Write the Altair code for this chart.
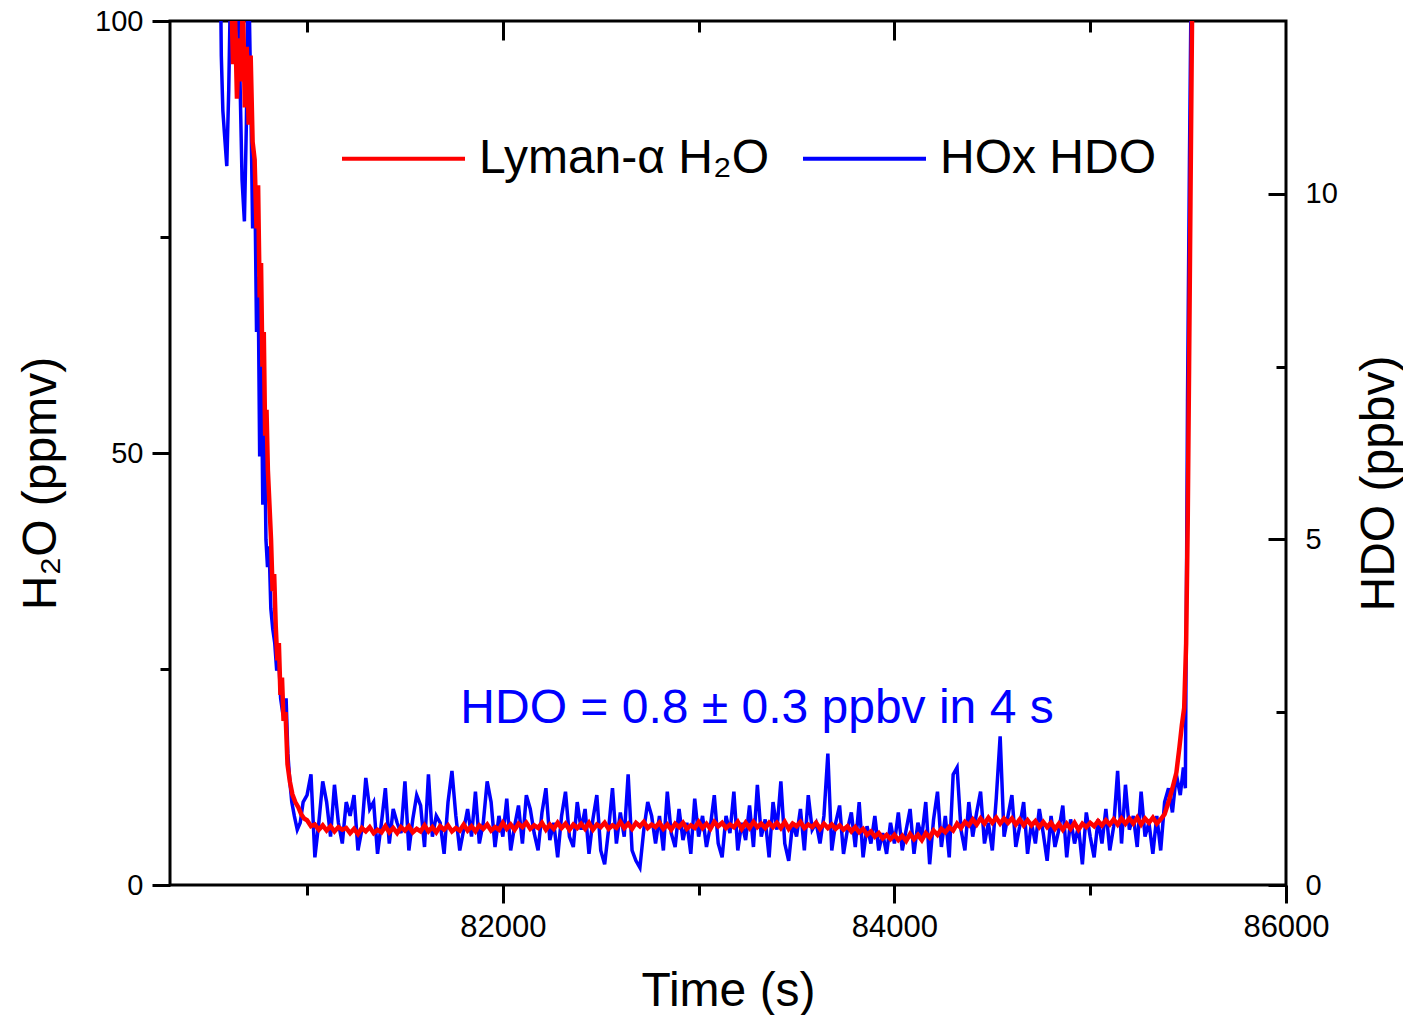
import altair as alt
import pandas as pd

FONT = "Liberation Sans"
RED = "#FF0000"
BLUE = "#0000FF"

# ---------------- data ----------------
# Lyman-alpha H2O (ppmv) – left axis
red_time_start = [80612, 80622, 80632, 80642, 80652, 80662, 80672, 80682, 80692, 80702,
                  80712, 80722, 80732, 80742, 80750, 80758, 80765, 80772, 80779, 80786,
                  80793, 80800, 80808, 80816, 80824, 80832, 80840, 80848, 80856, 80864,
                  80872, 80880, 80890, 80900, 80912, 80925, 80940, 80955, 80970, 80985]
red_val_start = [104, 95, 101, 91, 98, 93, 103, 90, 97, 88,
                 96, 86, 84, 76, 81, 68, 72, 60, 64, 52,
                 55, 48, 44, 40, 34, 36, 30, 26, 28, 22,
                 24, 19, 20, 14, 12, 10.5, 9.6, 9.0, 8.2, 7.7]
red_val_base = [
    7.5, 6.8, 7.0, 6.4, 6.9, 6.3, 6.8, 6.2, 6.7, 6.4,
    6.6, 6.0, 6.5, 5.9, 6.6, 6.2, 6.7, 6.0, 6.4, 6.1,
    6.8, 6.1, 6.6, 6.0, 6.7, 6.3, 6.8, 6.1, 6.5, 6.2,
    6.9, 6.2, 6.7, 6.1, 6.8, 6.4, 6.9, 6.2, 6.6, 6.3,
    7.0, 6.3, 6.8, 6.2, 6.9, 6.5, 7.0, 6.3, 6.7, 6.4,
    7.2, 6.5, 7.0, 6.4, 7.1, 6.7, 7.2, 6.5, 6.9, 6.6,
    7.2, 6.4, 7.0, 6.5, 7.2, 6.6, 7.1, 6.4, 7.0, 6.6,
    7.1, 6.5, 7.2, 6.4, 7.0, 6.7, 7.2, 6.5, 6.9, 6.6,
    7.3, 6.6, 7.1, 6.5, 7.2, 6.8, 7.3, 6.6, 7.0, 6.7,
    7.2, 6.5, 7.0, 6.4, 7.1, 6.7, 7.2, 6.5, 6.9, 6.6,
    7.3, 6.6, 7.1, 6.5, 7.3, 6.8, 7.2, 6.6, 7.0, 6.7,
    7.3, 6.5, 7.2, 6.6, 7.3, 6.7, 7.1, 6.6, 7.2, 6.7,
    7.2, 6.6, 7.3, 6.5, 7.1, 6.8, 7.3, 6.6, 7.0, 6.7,
    7.2, 6.5, 7.1, 6.6, 7.0, 6.5, 6.9, 6.4, 6.8, 6.2,
    6.7, 6.1, 6.5, 5.8, 6.2, 5.6, 6.0, 5.4, 5.8, 5.3,
    5.8, 5.2, 5.7, 5.1, 5.9, 5.3, 5.8, 5.2, 6.0, 5.5,
    6.3, 5.8, 6.5, 6.1, 6.7, 6.3, 7.1, 6.6, 7.3, 6.9,
    7.6, 7.0, 7.7, 7.1, 7.8, 7.2, 7.8, 7.1, 7.7, 7.2,
    7.7, 7.0, 7.6, 6.9, 7.5, 6.9, 7.4, 6.7, 7.3, 6.7,
    7.2, 6.5, 7.1, 6.4, 7.1, 6.5, 7.2, 6.4, 7.1, 6.7,
    7.2, 6.8, 7.4, 6.9, 7.5, 7.0, 7.6, 7.0, 7.7, 7.1,
    7.7, 7.1, 7.8, 7.0, 7.7, 7.2, 7.8, 7.1, 7.6,
]
red_time_end = [85380, 85400, 85420, 85440, 85455, 85468, 85480, 85490, 85498, 85505, 85512, 85518, 85524]
red_val_end = [8.2, 9.6, 11.2, 13.0, 15.8, 18.5, 20.5, 28, 42, 60, 79, 95, 110]

# HOx HDO (ppbv) – right axis
blue_time_start = [80555, 80562, 80570, 80580, 80590, 80600, 80612, 80625, 80640, 80655,
                   80668, 80680, 80690, 80700, 80712, 80722, 80732, 80742, 80750, 80758,
                   80766, 80774, 80782, 80790, 80798, 80806, 80815, 80825, 80835, 80845,
                   80855, 80865, 80875, 80885, 80893, 80902, 80912, 80922, 80935, 80950,
                   80965, 80980]
blue_val_start = [14.0, 12.0, 11.2, 10.8, 10.4, 11.5, 13.5, 12.9, 13.5, 12.0,
                  10.2, 9.6, 11.0, 13.5, 11.5, 9.5, 10.5, 8.0, 8.8, 6.2,
                  7.6, 5.5, 6.9, 5.0, 4.6, 4.9, 4.0, 3.7, 3.5, 3.1,
                  3.3, 2.7, 2.5, 2.4, 2.7, 1.9, 1.5, 1.2, 1.0, 0.8,
                  0.9, 1.2]
blue_val_base = [
    1.3, 1.6, 0.4, 0.9, 1.5, 1.2, 0.7, 1.45, 0.9, 0.6,
    1.2, 1.0, 1.3, 0.5, 0.8, 1.55, 1.1, 1.2, 0.45, 0.9,
    1.4, 0.6, 1.1, 0.9, 0.75, 1.5, 0.5, 0.95, 1.3, 1.15,
    0.55, 1.6, 0.7, 1.0, 0.9, 0.45, 1.2, 1.65, 1.0, 0.5,
    0.8, 1.1, 0.7, 1.35, 0.6, 0.9, 1.5, 1.2, 0.55, 1.0,
    0.7, 1.25, 0.5, 0.85, 1.15, 0.6, 1.3, 1.1, 0.75, 0.5,
    1.05, 1.4, 0.65, 0.9, 0.4, 1.0, 1.35, 0.7, 0.55, 1.2,
    0.8, 1.1, 0.45, 0.95, 1.3, 0.5, 0.3, 0.8, 1.4, 0.6,
    1.05, 0.7, 1.6, 0.5, 0.35, 0.25, 0.8, 1.2, 1.0, 0.6,
    1.0, 0.5, 1.35, 0.75, 0.55, 1.1, 0.65, 0.9, 0.45, 1.25,
    0.7, 1.0, 0.55, 0.85, 1.3, 0.6, 0.4, 1.0, 0.75, 1.35,
    0.5, 0.9, 0.65, 1.15, 0.55, 1.45, 0.7, 0.95, 0.4, 1.2,
    0.8, 1.5, 0.6, 0.35, 0.9, 0.7, 1.1, 0.5, 1.3, 0.8,
    0.9, 0.6, 1.0, 1.9, 0.5, 0.9, 1.15, 0.45, 0.8, 1.05,
    0.55, 1.2, 0.4, 0.85, 0.6, 1.0, 0.5, 0.75, 0.45, 0.9,
    0.6, 1.05, 0.5, 0.8, 1.1, 0.45, 0.9, 0.7, 1.2, 0.3,
    0.95, 1.35, 0.55, 1.0, 0.4, 1.6, 1.7, 0.8, 0.5, 1.2,
    0.7, 1.05, 1.35, 0.6, 0.9, 0.5, 1.25, 2.15, 0.7, 1.0,
    1.3, 0.55, 0.85, 1.2, 0.45, 0.9, 0.6, 1.1, 0.75, 0.35,
    1.0, 0.55, 0.8, 1.15, 0.4, 0.95, 0.6, 0.85, 0.3, 1.05,
    0.7, 0.4, 0.95, 0.6, 1.1, 0.5, 0.85, 1.65, 0.6, 1.45,
    0.8, 1.0, 0.55, 1.35, 0.7, 0.9, 0.45, 1.0, 0.5, 1.2,
]
blue_time_end = [85400, 85420, 85440, 85460, 85476, 85486, 85497, 85507, 85517]
blue_val_end = [1.4, 1.05, 1.6, 1.3, 1.7, 1.4, 7.0, 10.5, 13.5]

series_names = ["Lyman-\u03b1 H\u2082O", "HOx HDO"]
series_colors = [RED, BLUE]

annotation_text = ["HDO = 0.8 \u00b1 0.3 ppbv in 4 s"]
annotation_t = [81783]
annotation_v = [18.75]

x_domain = [80300, 86000]
left_domain = [0, 100]
right_domain = [0, 12.5]

# ---------------- tables ----------------
red_time = red_time_start + list(range(81000, 81000 + 20 * len(red_val_base), 20)) + red_time_end
red_vals = red_val_start + red_val_base + red_val_end
blue_time = blue_time_start + list(range(81000, 81000 + 20 * len(blue_val_base), 20)) + blue_time_end
blue_vals = blue_val_start + blue_val_base + blue_val_end

red_df = pd.DataFrame({"t": red_time, "v": red_vals, "series": series_names[0]})
blue_df = pd.DataFrame({"t": blue_time, "v": blue_vals, "series": series_names[1]})
ann_df = pd.DataFrame({"t": annotation_t, "v": annotation_v, "label": annotation_text})

# ---------------- axes ----------------
common = dict(domain=False, grid=False, tickColor="black", tickWidth=3,
              labelFlush=False, labelOverlap=False, labelBound=False)

ax_bottom_major = alt.Axis(orient="bottom", values=[82000, 84000, 86000], tickSize=18,
                           labelFont=FONT, labelFontSize=31, labelColor="black", labelPadding=9,
                           format="d", title="Time (s)", titleFont=FONT, titleFontSize=48,
                           titleFontWeight="normal", titleColor="black", titleY=120,
                           titleBaseline="alphabetic", **common)
ax_bottom_minor = alt.Axis(orient="bottom", values=[81000, 83000, 85000], tickSize=10,
                           labels=False, title=None, **common)
ax_top_major = alt.Axis(orient="top", values=[82000, 84000], tickSize=19, offset=-19,
                        labels=False, title=None, **common)
ax_top_minor = alt.Axis(orient="top", values=[81000, 83000, 85000], tickSize=11, offset=-11,
                        labels=False, title=None, **common)

ax_left_major = alt.Axis(orient="left", values=[0, 50, 100], tickSize=18,
                         labelFont=FONT, labelFontSize=29, labelColor="black", labelPadding=9,
                         title="H\u2082O (ppmv)", titleFont=FONT, titleFontSize=48,
                         titleFontWeight="normal", titleColor="black", titleAngle=270,
                         titleX=-115, titleY=462, titleAlign="center",
                         titleBaseline="alphabetic", **common)
ax_left_minor = alt.Axis(orient="left", values=[25, 75], tickSize=10,
                         labels=False, title=None, **common)
ax_right_major = alt.Axis(orient="right", values=[0, 5, 10], tickSize=18, offset=-18,
                          labelFont=FONT, labelFontSize=29, labelColor="black", labelPadding=19,
                          title="HDO (ppbv)", titleFont=FONT, titleFontSize=48,
                          titleFontWeight="normal", titleColor="black", titleAngle=270,
                          titleX=125, titleY=462, titleAlign="center",
                          titleBaseline="alphabetic", **common)
ax_right_minor = alt.Axis(orient="right", values=[2.5, 7.5], tickSize=10, offset=-10,
                          labels=False, title=None, **common)


def xenc(axis):
    return alt.X("t:Q", scale=alt.Scale(domain=x_domain, nice=False, zero=False), axis=axis)


def yenc(dom, axis):
    return alt.Y("v:Q", scale=alt.Scale(domain=dom, nice=False, zero=False), axis=axis)


legend = alt.Legend(orient="none", legendX=170, legendY=74, direction="horizontal",
                    title=None, symbolType="stroke", symbolSize=15129, symbolStrokeWidth=4,
                    labelFont=FONT, labelFontSize=48, labelColor="black", labelOffset=12,
                    columnPadding=26, padding=0, labelLimit=0)
color = alt.Color("series:N", scale=alt.Scale(domain=series_names, range=series_colors),
                  legend=legend)

blue_line = alt.Chart(blue_df).mark_line(strokeWidth=3.5, clip=True).encode(
    x=xenc(ax_top_minor), y=yenc(right_domain, ax_right_major), color=color)
red_line = alt.Chart(red_df).mark_line(strokeWidth=4.5, clip=True).encode(
    x=xenc(ax_bottom_major), y=yenc(left_domain, ax_left_major), color=color)
ghost_red = alt.Chart(red_df).mark_line(opacity=0, clip=True).encode(
    x=xenc(ax_bottom_minor), y=yenc(left_domain, ax_left_minor))
ghost_blue = alt.Chart(blue_df).mark_line(opacity=0, clip=True).encode(
    x=xenc(ax_top_major), y=yenc(right_domain, ax_right_minor))
annotation = alt.Chart(ann_df).mark_text(align="left", baseline="alphabetic", font=FONT,
                                         fontSize=48, color=BLUE).encode(
    x=xenc(None), y=yenc(left_domain, None), text="label:N")

chart = alt.layer(blue_line, red_line, ghost_red, ghost_blue, annotation).resolve_scale(
    x="independent", y="independent"
).properties(
    width=1116, height=864,
    autosize=alt.AutoSizeParams(type="none"),
    padding={"left": 162, "top": 13, "right": 117, "bottom": 130},
    background="white",
).configure_view(stroke="black", strokeWidth=3)

chart.save("out.html", embed_options={"renderer": "svg", "actions": False})
